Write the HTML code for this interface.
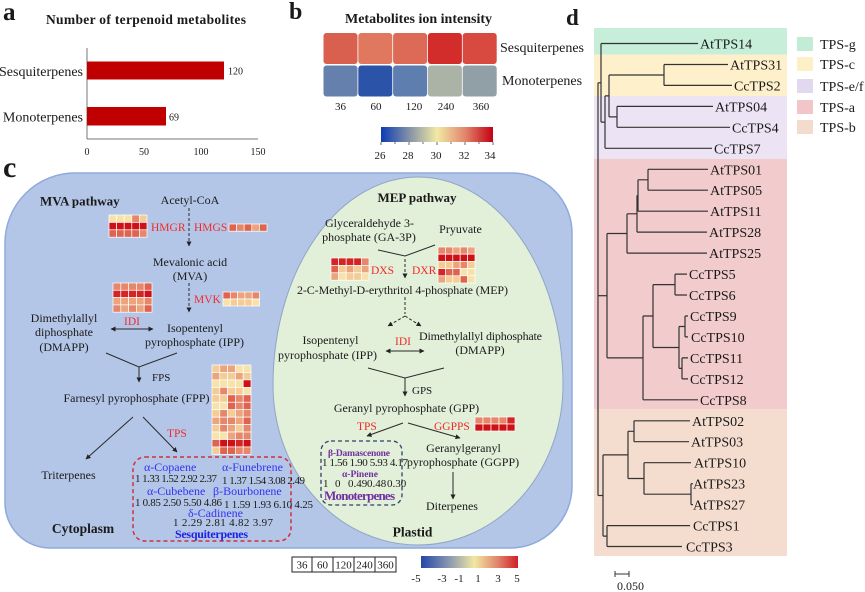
<!DOCTYPE html>
<html><head><meta charset="utf-8">
<style>
html,body{margin:0;padding:0;background:#fff;}
svg{display:block;}
text{font-family:"Liberation Serif","Times New Roman",serif;fill:#1a1a1a;}
.b{font-weight:bold;}
.r{fill:#f02a2a;}
.bl{fill:#3434f2;}
.pu{fill:#7030a0;font-weight:bold;}
.ln{stroke:#2a2a2a;stroke-width:1;fill:none;}
.tr{stroke:#333;stroke-width:1.2;fill:none;}
</style></head><body>
<svg width="865" height="592" viewBox="0 0 865 592" xmlns="http://www.w3.org/2000/svg">
<defs>
<marker id="ah" viewBox="0 0 10 10" refX="9" refY="5" markerWidth="5" markerHeight="5" orient="auto-start-reverse"><path d="M0,0 L10,5 L0,10 z" fill="#222"/></marker>
<linearGradient id="gb" x1="0" x2="1" y1="0" y2="0">
<stop offset="0" stop-color="#0a3cb4"/><stop offset="0.25" stop-color="#8391a6"/><stop offset="0.5" stop-color="#f1e9a4"/><stop offset="0.75" stop-color="#e2866d"/><stop offset="1" stop-color="#c40012"/>
</linearGradient>
<linearGradient id="gc" x1="0" x2="1" y1="0" y2="0">
<stop offset="0" stop-color="#2248a8"/><stop offset="0.3" stop-color="#8e9ab0"/><stop offset="0.55" stop-color="#f0e8a2"/><stop offset="0.8" stop-color="#e08068"/><stop offset="1" stop-color="#d01f27"/>
</linearGradient>
</defs>

<!-- Panel a -->
<text x="3" y="20" font-size="25" class="b">a</text>
<text x="46" y="24" font-size="13.5" class="b" textLength="200">Number of terpenoid metabolites</text>
<line x1="87" y1="48" x2="87" y2="139" stroke="#777" stroke-width="1"/>
<line x1="87" y1="139" x2="258" y2="139" stroke="#777" stroke-width="1"/>
<rect x="87" y="61.5" width="137" height="18" fill="#c00000"/>
<rect x="87" y="107" width="79" height="18.5" fill="#c00000"/>
<text x="83" y="76" font-size="14" text-anchor="end">Sesquiterpenes</text>
<text x="83" y="121.5" font-size="14" text-anchor="end">Monoterpenes</text>
<text x="228" y="74.5" font-size="10">120</text>
<text x="169" y="120.5" font-size="10">69</text>
<text x="87" y="155" font-size="10" text-anchor="middle">0</text>
<text x="144" y="155" font-size="10" text-anchor="middle">50</text>
<text x="201" y="155" font-size="10" text-anchor="middle">100</text>
<text x="258" y="155" font-size="10" text-anchor="middle">150</text>

<!-- Panel b -->
<text x="289" y="19" font-size="24" class="b">b</text>
<text x="418.5" y="23" font-size="14" class="b" text-anchor="middle">Metabolites ion intensity</text>
<rect x="323.5" y="33" width="34" height="31" rx="3" fill="#d9604f"/>
<rect x="358.3" y="33" width="34" height="31" rx="3" fill="#e0785f"/>
<rect x="393.1" y="33" width="34" height="31" rx="3" fill="#dc6a56"/>
<rect x="427.9" y="33" width="34" height="31" rx="3" fill="#d22d2a"/>
<rect x="462.7" y="33" width="34" height="31" rx="3" fill="#d8493f"/>
<rect x="323.5" y="65.5" width="34" height="31" rx="3" fill="#6680ad"/>
<rect x="358.3" y="65.5" width="34" height="31" rx="3" fill="#2b53a8"/>
<rect x="393.1" y="65.5" width="34" height="31" rx="3" fill="#5f7eb0"/>
<rect x="427.9" y="65.5" width="34" height="31" rx="3" fill="#aab3a6"/>
<rect x="462.7" y="65.5" width="34" height="31" rx="3" fill="#919fa6"/>
<text x="500" y="52" font-size="14">Sesquiterpenes</text>
<text x="502" y="85" font-size="14">Monoterpenes</text>
<text x="340.5" y="110" font-size="11" text-anchor="middle">36</text>
<text x="376" y="110" font-size="11" text-anchor="middle">60</text>
<text x="414" y="110" font-size="11" text-anchor="middle">120</text>
<text x="446" y="110" font-size="11" text-anchor="middle">240</text>
<text x="481" y="110" font-size="11" text-anchor="middle">360</text>
<rect x="381" y="127" width="112" height="15" fill="url(#gb)"/>
<g stroke="#444" stroke-width="0.8">
<line x1="381" y1="142" x2="381" y2="145"/><line x1="395" y1="142" x2="395" y2="144"/><line x1="409" y1="142" x2="409" y2="145"/><line x1="423" y1="142" x2="423" y2="144"/><line x1="437" y1="142" x2="437" y2="145"/><line x1="451" y1="142" x2="451" y2="144"/><line x1="465" y1="142" x2="465" y2="145"/><line x1="479" y1="142" x2="479" y2="144"/><line x1="493" y1="142" x2="493" y2="145"/>
</g>
<text x="380" y="159" font-size="11" text-anchor="middle">26</text>
<text x="408" y="159" font-size="11" text-anchor="middle">28</text>
<text x="436" y="159" font-size="11" text-anchor="middle">30</text>
<text x="464" y="159" font-size="11" text-anchor="middle">32</text>
<text x="490" y="159" font-size="11" text-anchor="middle">34</text>

<!-- Panel c -->
<text x="3" y="177" font-size="30" class="b">c</text>
<path d="M75,173 H512 A60,60 0 0 1 572,233 V486 A62,62 0 0 1 510,548 H50 A45,45 0 0 1 5,503 V243 A70,70 0 0 1 75,173 Z" fill="#b4c6e7" stroke="#8eaadb" stroke-width="1.5"/>
<path d="M273,385 A145,208 0 0 1 563,385 A145,160 0 0 1 273,385 Z" fill="#e2efd9" stroke="#8fa6c6" stroke-width="1"/>

<!-- MVA -->
<text x="40" y="205.5" font-size="13" class="b">MVA pathway</text>
<text x="190" y="204" font-size="12" text-anchor="middle">Acetyl-CoA</text>
<line x1="189" y1="208" x2="189" y2="246" class="ln" stroke-dasharray="3,2" marker-end="url(#ah)"/>
<g stroke="#fff" stroke-width="0.7">
<!-- HMGR -->
<rect x="109" y="215" width="7.6" height="7.4" fill="#f7e3aa"/><rect x="116.6" y="215" width="7.6" height="7.4" fill="#f7e3aa"/><rect x="124.2" y="215" width="7.6" height="7.4" fill="#f7e3aa"/><rect x="131.8" y="215" width="7.6" height="7.4" fill="#e6876b"/><rect x="139.4" y="215" width="7.6" height="7.4" fill="#f3cd95"/>
<rect x="109" y="222.4" width="7.6" height="7.4" fill="#cf1016"/><rect x="116.6" y="222.4" width="7.6" height="7.4" fill="#cf1016"/><rect x="124.2" y="222.4" width="7.6" height="7.4" fill="#cf1016"/><rect x="131.8" y="222.4" width="7.6" height="7.4" fill="#cf1016"/><rect x="139.4" y="222.4" width="7.6" height="7.4" fill="#cf1016"/>
<rect x="109" y="229.8" width="7.6" height="7.4" fill="#e0634f"/><rect x="116.6" y="229.8" width="7.6" height="7.4" fill="#e0634f"/><rect x="124.2" y="229.8" width="7.6" height="7.4" fill="#e0634f"/><rect x="131.8" y="229.8" width="7.6" height="7.4" fill="#e0634f"/><rect x="139.4" y="229.8" width="7.6" height="7.4" fill="#e6876b"/>
<!-- HMGS -->
<rect x="229" y="224" width="7.6" height="7.2" fill="#e0634f"/><rect x="236.6" y="224" width="7.6" height="7.2" fill="#e6876b"/><rect x="244.2" y="224" width="7.6" height="7.2" fill="#e0634f"/><rect x="251.8" y="224" width="7.6" height="7.2" fill="#eca47e"/><rect x="259.4" y="224" width="7.6" height="7.2" fill="#e0634f"/>
<!-- MVK -->
<rect x="223" y="292" width="7.3" height="7" fill="#e0634f"/><rect x="230.3" y="292" width="7.3" height="7" fill="#e6876b"/><rect x="237.6" y="292" width="7.3" height="7" fill="#eca47e"/><rect x="244.9" y="292" width="7.3" height="7" fill="#eca47e"/><rect x="252.2" y="292" width="7.3" height="7" fill="#e6876b"/>
<rect x="223" y="299" width="7.3" height="7" fill="#f7e3aa"/><rect x="230.3" y="299" width="7.3" height="7" fill="#f3cd95"/><rect x="237.6" y="299" width="7.3" height="7" fill="#f3cd95"/><rect x="244.9" y="299" width="7.3" height="7" fill="#f3cd95"/><rect x="252.2" y="299" width="7.3" height="7" fill="#f7e3aa"/>
<!-- IDI -->
<rect x="113" y="283" width="7.8" height="7.3" fill="#e6876b"/><rect x="120.8" y="283" width="7.8" height="7.3" fill="#e6876b"/><rect x="128.6" y="283" width="7.8" height="7.3" fill="#e6876b"/><rect x="136.4" y="283" width="7.8" height="7.3" fill="#e6876b"/><rect x="144.2" y="283" width="7.8" height="7.3" fill="#e0634f"/>
<rect x="113" y="290.3" width="7.8" height="7.3" fill="#d42424"/><rect x="120.8" y="290.3" width="7.8" height="7.3" fill="#d42424"/><rect x="128.6" y="290.3" width="7.8" height="7.3" fill="#d42424"/><rect x="136.4" y="290.3" width="7.8" height="7.3" fill="#d42424"/><rect x="144.2" y="290.3" width="7.8" height="7.3" fill="#cf1016"/>
<rect x="113" y="297.6" width="7.8" height="7.3" fill="#eca47e"/><rect x="120.8" y="297.6" width="7.8" height="7.3" fill="#eca47e"/><rect x="128.6" y="297.6" width="7.8" height="7.3" fill="#eca47e"/><rect x="136.4" y="297.6" width="7.8" height="7.3" fill="#eca47e"/><rect x="144.2" y="297.6" width="7.8" height="7.3" fill="#e6876b"/>
<rect x="113" y="304.9" width="7.8" height="7.3" fill="#e6876b"/><rect x="120.8" y="304.9" width="7.8" height="7.3" fill="#eca47e"/><rect x="128.6" y="304.9" width="7.8" height="7.3" fill="#e6876b"/><rect x="136.4" y="304.9" width="7.8" height="7.3" fill="#eca47e"/><rect x="144.2" y="304.9" width="7.8" height="7.3" fill="#e0634f"/>
<!-- TPS cytoplasm 12 rows -->
<rect x="212" y="365" width="7.8" height="7.45" fill="#f3cd95"/><rect x="219.8" y="365" width="7.8" height="7.45" fill="#eca47e"/><rect x="227.6" y="365" width="7.8" height="7.45" fill="#eca47e"/><rect x="235.4" y="365" width="7.8" height="7.45" fill="#f7e3aa"/><rect x="243.2" y="365" width="7.8" height="7.45" fill="#f7e3aa"/>
<rect x="212" y="372.45" width="7.8" height="7.45" fill="#eca47e"/><rect x="219.8" y="372.45" width="7.8" height="7.45" fill="#f3cd95"/><rect x="227.6" y="372.45" width="7.8" height="7.45" fill="#f3cd95"/><rect x="235.4" y="372.45" width="7.8" height="7.45" fill="#eca47e"/><rect x="243.2" y="372.45" width="7.8" height="7.45" fill="#f3cd95"/>
<rect x="212" y="379.9" width="7.8" height="7.45" fill="#f7e3aa"/><rect x="219.8" y="379.9" width="7.8" height="7.45" fill="#f7e3aa"/><rect x="227.6" y="379.9" width="7.8" height="7.45" fill="#f7e3aa"/><rect x="235.4" y="379.9" width="7.8" height="7.45" fill="#f7e3aa"/><rect x="243.2" y="379.9" width="7.8" height="7.45" fill="#cf1016"/>
<rect x="212" y="387.35" width="7.8" height="7.45" fill="#f3cd95"/><rect x="219.8" y="387.35" width="7.8" height="7.45" fill="#e6876b"/><rect x="227.6" y="387.35" width="7.8" height="7.45" fill="#f3cd95"/><rect x="235.4" y="387.35" width="7.8" height="7.45" fill="#f3cd95"/><rect x="243.2" y="387.35" width="7.8" height="7.45" fill="#f7e3aa"/>
<rect x="212" y="394.8" width="7.8" height="7.45" fill="#f3cd95"/><rect x="219.8" y="394.8" width="7.8" height="7.45" fill="#f3cd95"/><rect x="227.6" y="394.8" width="7.8" height="7.45" fill="#e0634f"/><rect x="235.4" y="394.8" width="7.8" height="7.45" fill="#e6876b"/><rect x="243.2" y="394.8" width="7.8" height="7.45" fill="#e0634f"/>
<rect x="212" y="402.25" width="7.8" height="7.45" fill="#f7e3aa"/><rect x="219.8" y="402.25" width="7.8" height="7.45" fill="#f7e3aa"/><rect x="227.6" y="402.25" width="7.8" height="7.45" fill="#e0634f"/><rect x="235.4" y="402.25" width="7.8" height="7.45" fill="#e6876b"/><rect x="243.2" y="402.25" width="7.8" height="7.45" fill="#e0634f"/>
<rect x="212" y="409.7" width="7.8" height="7.45" fill="#f3cd95"/><rect x="219.8" y="409.7" width="7.8" height="7.45" fill="#e6876b"/><rect x="227.6" y="409.7" width="7.8" height="7.45" fill="#f3cd95"/><rect x="235.4" y="409.7" width="7.8" height="7.45" fill="#eca47e"/><rect x="243.2" y="409.7" width="7.8" height="7.45" fill="#e6876b"/>
<rect x="212" y="417.15" width="7.8" height="7.45" fill="#eca47e"/><rect x="219.8" y="417.15" width="7.8" height="7.45" fill="#e6876b"/><rect x="227.6" y="417.15" width="7.8" height="7.45" fill="#e6876b"/><rect x="235.4" y="417.15" width="7.8" height="7.45" fill="#eca47e"/><rect x="243.2" y="417.15" width="7.8" height="7.45" fill="#e0634f"/>
<rect x="212" y="424.6" width="7.8" height="7.45" fill="#f3cd95"/><rect x="219.8" y="424.6" width="7.8" height="7.45" fill="#e6876b"/><rect x="227.6" y="424.6" width="7.8" height="7.45" fill="#eca47e"/><rect x="235.4" y="424.6" width="7.8" height="7.45" fill="#f3cd95"/><rect x="243.2" y="424.6" width="7.8" height="7.45" fill="#e6876b"/>
<rect x="212" y="432.05" width="7.8" height="7.45" fill="#f7e3aa"/><rect x="219.8" y="432.05" width="7.8" height="7.45" fill="#f7e3aa"/><rect x="227.6" y="432.05" width="7.8" height="7.45" fill="#eca47e"/><rect x="235.4" y="432.05" width="7.8" height="7.45" fill="#e6876b"/><rect x="243.2" y="432.05" width="7.8" height="7.45" fill="#e6876b"/>
<rect x="212" y="439.5" width="7.8" height="7.45" fill="#e0634f"/><rect x="219.8" y="439.5" width="7.8" height="7.45" fill="#cf1016"/><rect x="227.6" y="439.5" width="7.8" height="7.45" fill="#cf1016"/><rect x="235.4" y="439.5" width="7.8" height="7.45" fill="#d42424"/><rect x="243.2" y="439.5" width="7.8" height="7.45" fill="#cf1016"/>
<rect x="212" y="446.95" width="7.8" height="7.45" fill="#f3cd95"/><rect x="219.8" y="446.95" width="7.8" height="7.45" fill="#e0634f"/><rect x="227.6" y="446.95" width="7.8" height="7.45" fill="#e0634f"/><rect x="235.4" y="446.95" width="7.8" height="7.45" fill="#e6876b"/><rect x="243.2" y="446.95" width="7.8" height="7.45" fill="#e6876b"/>
<!-- DXS -->
<rect x="331" y="258" width="7.6" height="7.4" fill="#d42424"/><rect x="338.6" y="258" width="7.6" height="7.4" fill="#d42424"/><rect x="346.2" y="258" width="7.6" height="7.4" fill="#d42424"/><rect x="353.8" y="258" width="7.6" height="7.4" fill="#d42424"/><rect x="361.4" y="258" width="7.6" height="7.4" fill="#e6876b"/>
<rect x="331" y="265.4" width="7.6" height="7.4" fill="#e0634f"/><rect x="338.6" y="265.4" width="7.6" height="7.4" fill="#f3cd95"/><rect x="346.2" y="265.4" width="7.6" height="7.4" fill="#eca47e"/><rect x="353.8" y="265.4" width="7.6" height="7.4" fill="#f3cd95"/><rect x="361.4" y="265.4" width="7.6" height="7.4" fill="#eca47e"/>
<rect x="331" y="272.8" width="7.6" height="7.4" fill="#eca47e"/><rect x="338.6" y="272.8" width="7.6" height="7.4" fill="#f7e3aa"/><rect x="346.2" y="272.8" width="7.6" height="7.4" fill="#f3cd95"/><rect x="353.8" y="272.8" width="7.6" height="7.4" fill="#f3cd95"/><rect x="361.4" y="272.8" width="7.6" height="7.4" fill="#f7e3aa"/>
<!-- DXR -->
<rect x="438" y="247" width="7.4" height="7.2" fill="#e6876b"/><rect x="445.4" y="247" width="7.4" height="7.2" fill="#e6876b"/><rect x="452.8" y="247" width="7.4" height="7.2" fill="#eca47e"/><rect x="460.2" y="247" width="7.4" height="7.2" fill="#e6876b"/><rect x="467.6" y="247" width="7.4" height="7.2" fill="#eca47e"/>
<rect x="438" y="254.2" width="7.4" height="7.2" fill="#cf1016"/><rect x="445.4" y="254.2" width="7.4" height="7.2" fill="#cf1016"/><rect x="452.8" y="254.2" width="7.4" height="7.2" fill="#cf1016"/><rect x="460.2" y="254.2" width="7.4" height="7.2" fill="#cf1016"/><rect x="467.6" y="254.2" width="7.4" height="7.2" fill="#cf1016"/>
<rect x="438" y="261.4" width="7.4" height="7.2" fill="#f3cd95"/><rect x="445.4" y="261.4" width="7.4" height="7.2" fill="#f3cd95"/><rect x="452.8" y="261.4" width="7.4" height="7.2" fill="#eca47e"/><rect x="460.2" y="261.4" width="7.4" height="7.2" fill="#e6876b"/><rect x="467.6" y="261.4" width="7.4" height="7.2" fill="#f3cd95"/>
<rect x="438" y="268.6" width="7.4" height="7.2" fill="#d42424"/><rect x="445.4" y="268.6" width="7.4" height="7.2" fill="#e0634f"/><rect x="452.8" y="268.6" width="7.4" height="7.2" fill="#e0634f"/><rect x="460.2" y="268.6" width="7.4" height="7.2" fill="#f7e3aa"/><rect x="467.6" y="268.6" width="7.4" height="7.2" fill="#f7e3aa"/>
<rect x="438" y="275.8" width="7.4" height="7.2" fill="#eca47e"/><rect x="445.4" y="275.8" width="7.4" height="7.2" fill="#f3cd95"/><rect x="452.8" y="275.8" width="7.4" height="7.2" fill="#f3cd95"/><rect x="460.2" y="275.8" width="7.4" height="7.2" fill="#e0634f"/><rect x="467.6" y="275.8" width="7.4" height="7.2" fill="#f7e3aa"/>
<!-- GGPPS -->
<rect x="475" y="417" width="8" height="7" fill="#e6876b"/><rect x="483" y="417" width="8" height="7" fill="#e6876b"/><rect x="491" y="417" width="8" height="7" fill="#e6876b"/><rect x="499" y="417" width="8" height="7" fill="#e6876b"/><rect x="507" y="417" width="8" height="7" fill="#d42424"/>
<rect x="475" y="424" width="8" height="7" fill="#cf1016"/><rect x="483" y="424" width="8" height="7" fill="#cf1016"/><rect x="491" y="424" width="8" height="7" fill="#cf1016"/><rect x="499" y="424" width="8" height="7" fill="#cf1016"/><rect x="507" y="424" width="8" height="7" fill="#cf1016"/>
</g>

<text x="151" y="231" font-size="11.5" class="r">HMGR</text>
<text x="194" y="231" font-size="11.5" class="r">HMGS</text>
<text x="190" y="266" font-size="12" text-anchor="middle">Mevalonic acid</text>
<text x="190" y="280" font-size="12" text-anchor="middle">(MVA)</text>
<line x1="189" y1="283" x2="189" y2="312" class="ln" stroke-dasharray="3,2" marker-end="url(#ah)"/>
<text x="194" y="303" font-size="11.5" class="r">MVK</text>
<text x="132" y="325" font-size="11.5" class="r" text-anchor="middle">IDI</text>
<line x1="111" y1="329" x2="153" y2="329" class="ln" marker-start="url(#ah)" marker-end="url(#ah)"/>
<text x="64" y="322" font-size="12" text-anchor="middle">Dimethylallyl</text>
<text x="64" y="336" font-size="12" text-anchor="middle">diphosphate</text>
<text x="64" y="351" font-size="12" text-anchor="middle">(DMAPP)</text>
<text x="195" y="332" font-size="12" text-anchor="middle">Isopentenyl</text>
<text x="194.5" y="346" font-size="12" text-anchor="middle">pyrophosphate (IPP)</text>
<polyline points="106,353 139,367 177,353" class="ln"/>
<line x1="139" y1="367" x2="139" y2="382" class="ln" marker-end="url(#ah)"/>
<text x="152" y="381" font-size="11">FPS</text>
<text x="136.5" y="402" font-size="12" text-anchor="middle">Farnesyl pyrophosphate (FPP)</text>
<line x1="133" y1="417" x2="86" y2="459" class="ln" marker-end="url(#ah)"/>
<line x1="143" y1="417" x2="177" y2="452" class="ln" marker-end="url(#ah)"/>
<text x="167" y="437" font-size="11.5" class="r">TPS</text>
<text x="68.5" y="479" font-size="12" text-anchor="middle">Triterpenes</text>
<text x="83" y="533" font-size="13.5" class="b" text-anchor="middle">Cytoplasm</text>

<rect x="133" y="457" width="158" height="84" rx="12" fill="none" stroke="#d0303c" stroke-width="1.5" stroke-dasharray="4,3"/>
<text x="144" y="471" font-size="12" class="bl">α-Copaene</text>
<text x="222" y="471" font-size="12" class="bl">α-Funebrene</text>
<text x="135" y="482" font-size="11" textLength="82">1 1.33 1.52 2.92 2.37</text>
<text x="222" y="484" font-size="11" textLength="83">1 1.37 1.54 3.08 2.49</text>
<text x="147" y="495" font-size="12" class="bl">α-Cubebene</text>
<text x="213" y="495" font-size="12" class="bl">β-Bourbonene</text>
<text x="135" y="506" font-size="11" textLength="87">1 0.85 2.50 5.50 4.86</text>
<text x="224" y="508" font-size="11" textLength="89">1 1.59 1.93 6.10 4.25</text>
<text x="188" y="517" font-size="12" class="bl">δ-Cadinene</text>
<text x="173" y="526" font-size="11" textLength="100">1 2.29 2.81 4.82 3.97</text>
<text x="175" y="538" font-size="12" class="b" style="fill:#1f1fe6" textLength="73">Sesquiterpenes</text>

<!-- MEP -->
<text x="417" y="202" font-size="13" class="b" text-anchor="middle">MEP pathway</text>
<text x="369.5" y="227" font-size="12" text-anchor="middle">Glyceraldehyde 3-</text>
<text x="369" y="241" font-size="12" text-anchor="middle">phosphate (GA-3P)</text>
<text x="460.5" y="233" font-size="12" text-anchor="middle">Pryuvate</text>
<polyline points="378,250 405,256 435,245" class="ln"/>
<line x1="405" y1="259" x2="405" y2="278" class="ln" stroke-dasharray="3,2" marker-end="url(#ah)"/>
<text x="371" y="274" font-size="11.5" class="r">DXS</text>
<text x="412" y="274" font-size="11.5" class="r">DXR</text>
<text x="297" y="294" font-size="12" textLength="211">2-C-Methyl-D-erythritol 4-phosphate (MEP)</text>
<line x1="405" y1="297" x2="405" y2="314" class="ln" stroke-dasharray="3,2"/>
<line x1="405" y1="316" x2="388" y2="326" class="ln" stroke-dasharray="3,2" marker-end="url(#ah)"/>
<line x1="405" y1="316" x2="421" y2="326" class="ln" stroke-dasharray="3,2" marker-end="url(#ah)"/>
<text x="330.5" y="344" font-size="12" text-anchor="middle">Isopentenyl</text>
<text x="377" y="359" font-size="12" text-anchor="end">pyrophosphate (IPP)</text>
<text x="403" y="345" font-size="11.5" class="r" text-anchor="middle">IDI</text>
<line x1="386" y1="351" x2="424" y2="351" class="ln" marker-start="url(#ah)" marker-end="url(#ah)"/>
<text x="419" y="340" font-size="12" textLength="123">Dimethylallyl diphosphate</text>
<text x="480" y="354" font-size="12" text-anchor="middle">(DMAPP)</text>
<polyline points="368,368 405,378 444,368" class="ln"/>
<line x1="405" y1="378" x2="405" y2="396" class="ln" marker-end="url(#ah)"/>
<text x="412" y="394" font-size="11">GPS</text>
<text x="406.5" y="412" font-size="12" text-anchor="middle">Geranyl pyrophosphate (GPP)</text>
<text x="357" y="430" font-size="11.5" class="r">TPS</text>
<line x1="403" y1="423" x2="367" y2="436" class="ln" marker-end="url(#ah)"/>
<line x1="408" y1="423" x2="460" y2="438" class="ln" marker-end="url(#ah)"/>
<text x="434" y="430" font-size="11.5" class="r">GGPPS</text>
<text x="463.5" y="452" font-size="12" text-anchor="middle">Geranylgeranyl</text>
<text x="463" y="466" font-size="12" text-anchor="middle">pyrophosphate (GGPP)</text>
<line x1="453" y1="472" x2="453" y2="499" class="ln" marker-end="url(#ah)"/>
<text x="452" y="510" font-size="12" text-anchor="middle">Diterpenes</text>
<text x="412.5" y="536.5" font-size="13.5" class="b" text-anchor="middle">Plastid</text>

<rect x="321" y="441" width="81" height="64" rx="10" fill="none" stroke="#2e3f6e" stroke-width="1.3" stroke-dasharray="4,3"/>
<text x="328" y="456" font-size="9.5" class="pu" textLength="62">β-Damascenone</text>
<text x="322" y="466" font-size="11" textLength="86">1 1.56 1.90 5.93 4.17</text>
<text x="342" y="477" font-size="9.5" class="pu">α-Pinene</text>
<text x="323" y="487" font-size="11">1</text>
<text x="335" y="487" font-size="11">0</text>
<text x="348" y="487" font-size="11">0.49</text>
<text x="367" y="487" font-size="11">0.48</text>
<text x="387" y="487" font-size="11">0.30</text>
<text x="324" y="500" font-size="13" class="pu" textLength="71">Monoterpenes</text>

<!-- bottom legend -->
<rect x="292" y="557" width="104" height="15" fill="#fff" stroke="#222" stroke-width="1"/>
<g stroke="#222" stroke-width="1"><line x1="312" y1="557" x2="312" y2="572"/><line x1="333" y1="557" x2="333" y2="572"/><line x1="354" y1="557" x2="354" y2="572"/><line x1="375" y1="557" x2="375" y2="572"/></g>
<text x="302" y="568.5" font-size="11" text-anchor="middle">36</text>
<text x="322.5" y="568.5" font-size="11" text-anchor="middle">60</text>
<text x="343.5" y="568.5" font-size="11" text-anchor="middle">120</text>
<text x="364.5" y="568.5" font-size="11" text-anchor="middle">240</text>
<text x="385.5" y="568.5" font-size="11" text-anchor="middle">360</text>
<rect x="421" y="556" width="97" height="12" fill="url(#gc)"/>
<text x="416" y="582" font-size="11" text-anchor="middle">-5</text>
<text x="442" y="582" font-size="11" text-anchor="middle">-3</text>
<text x="459" y="582" font-size="11" text-anchor="middle">-1</text>
<text x="478" y="582" font-size="11" text-anchor="middle">1</text>
<text x="498" y="582" font-size="11" text-anchor="middle">3</text>
<text x="517" y="582" font-size="11" text-anchor="middle">5</text>

<!-- Panel d -->
<text x="566" y="25" font-size="23" class="b">d</text>
<rect x="594" y="28" width="193" height="26.5" fill="#c6eed9"/>
<rect x="594" y="54.5" width="193" height="41.5" fill="#fdf0cb"/>
<rect x="594" y="96" width="193" height="62.8" fill="#ece4f4"/>
<rect x="594" y="158.8" width="193" height="250.2" fill="#f2cbcd"/>
<rect x="594" y="409" width="193" height="147" fill="#f4ddcf"/>

<rect x="797" y="37" width="16" height="14" fill="#c3ecd6"/>
<rect x="797" y="57" width="16" height="14" fill="#fdefc6"/>
<rect x="797" y="79" width="16" height="14" fill="#e2d8ef"/>
<rect x="797" y="100" width="16" height="14" fill="#f2c6c8"/>
<rect x="797" y="120" width="16" height="14" fill="#f3dccd"/>
<text x="820" y="49" font-size="14">TPS-g</text>
<text x="820" y="69" font-size="14">TPS-c</text>
<text x="820" y="91" font-size="14">TPS-e/f</text>
<text x="820" y="112" font-size="14">TPS-a</text>
<text x="820" y="132" font-size="14">TPS-b</text>

<g class="tr">
<path d="M601,43.5 H698"/>
<path d="M664,64.5 H728 M664,85.4 H732 M664,64.5 V85.4"/>
<path d="M617,106.4 H713 M617,127.3 H730 M617,106.4 V127.3"/>
<path d="M609,75 H664 M609,116.9 H617 M609,75 V116.9"/>
<path d="M605,148.3 H712 M605,95.9 H609 M605,95.9 V148.3"/>
<path d="M601,43.5 V122.1 M601,122.1 H605"/>
<path d="M598,82.8 H601"/>
<path d="M648,169.3 H708 M648,190.2 H708 M648,169.3 V190.2"/>
<path d="M638,211.2 H708 M638,179.8 H648 M638,179.8 V211.2"/>
<path d="M637,232.1 H707 M637,195.5 H638 M637,195.5 V232.1"/>
<path d="M627,253.1 H707 M627,213.8 H637 M627,213.8 V253.1"/>
<path d="M675,274.1 H687 M675,295 H687 M675,274.1 V295"/>
<path d="M685,316 H688 M685,336.9 H688 M685,316 V336.9"/>
<path d="M682,357.9 H688 M682,378.9 H688 M682,357.9 V378.9"/>
<path d="M679,326.5 H685 M679,368.4 H682 M679,326.5 V368.4"/>
<path d="M653,284.6 H675 M653,347.5 H679 M653,284.6 V347.5"/>
<path d="M643,399.8 H698 M643,316 H653 M643,316 V399.8"/>
<path d="M607,233.5 H627 M607,357.9 H643 M607,233.5 V357.9"/>
<path d="M598,295.7 H607"/>
<path d="M634,420.8 H690 M634,441.7 H689 M634,420.8 V441.7"/>
<path d="M691,483.7 H693 M691,504.6 H693 M691,483.7 V504.6"/>
<path d="M644,462.7 H691 M644,494.2 H691 M644,462.7 V494.2"/>
<path d="M628,431.3 H634 M628,478.5 H644 M628,431.3 V478.5"/>
<path d="M607,525.6 H690 M607,546.5 H682 M607,525.6 V546.5"/>
<path d="M603,454.9 H628 M603,536.1 H607 M603,454.9 V536.1"/>
<path d="M598,495.5 H603"/>
<path d="M598,82.8 V495.5"/>
</g>

<g font-size="14">
<text x="700" y="48.5">AtTPS14</text>
<text x="730" y="69.5">AtTPS31</text>
<text x="734" y="90.4">CcTPS2</text>
<text x="715" y="111.4">AtTPS04</text>
<text x="732" y="132.3">CcTPS4</text>
<text x="714" y="153.3">CcTPS7</text>
<text x="710" y="174.3">AtTPS01</text>
<text x="710" y="195.2">AtTPS05</text>
<text x="710" y="216.2">AtTPS11</text>
<text x="709" y="237.1">AtTPS28</text>
<text x="709" y="258.1">AtTPS25</text>
<text x="689" y="279.1">CcTPS5</text>
<text x="689" y="300">CcTPS6</text>
<text x="690" y="321">CcTPS9</text>
<text x="691" y="341.9">CcTPS10</text>
<text x="690" y="362.9">CcTPS11</text>
<text x="690" y="383.9">CcTPS12</text>
<text x="700" y="404.8">CcTPS8</text>
<text x="692" y="425.8">AtTPS02</text>
<text x="691" y="446.7">AtTPS03</text>
<text x="694" y="467.7">AtTPS10</text>
<text x="693" y="488.7">AtTPS23</text>
<text x="693" y="509.6">AtTPS27</text>
<text x="693" y="530.6">CcTPS1</text>
<text x="686" y="551.5">CcTPS3</text>
</g>
<g stroke="#333" stroke-width="1"><line x1="615" y1="574" x2="629" y2="574"/><line x1="615" y1="571" x2="615" y2="577"/><line x1="629" y1="571" x2="629" y2="577"/></g>
<text x="617" y="590" font-size="12">0.050</text>
</svg>
</body></html>
